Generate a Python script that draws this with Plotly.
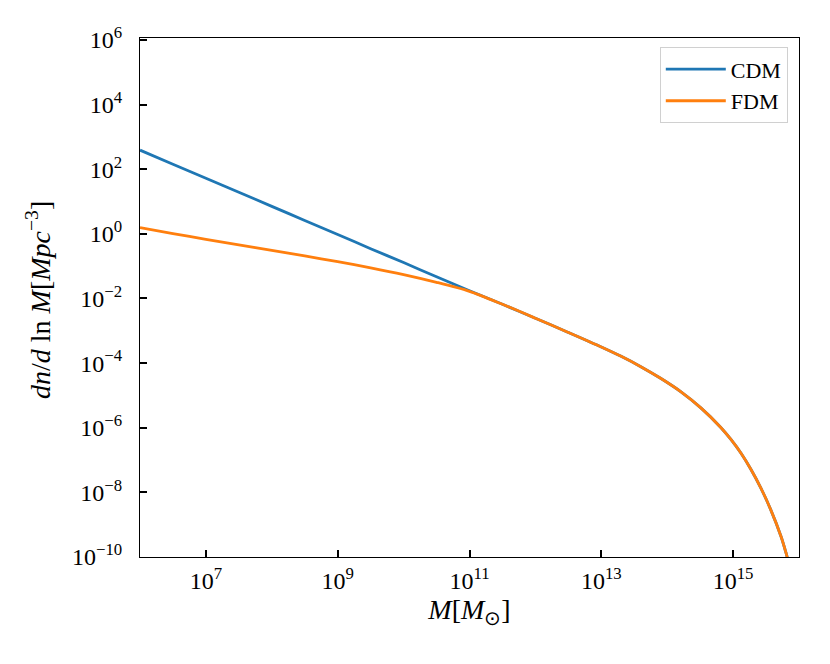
import plotly.graph_objects as go

# Halo mass (M_sun)
mass = [1e6, 3.16e6, 1e7, 3.16e7, 1e8, 3.16e8, 1e9, 3.16e9, 1e10, 3.16e10, 1e11, 3.16e11,
        1e12, 3.16e12, 1e13, 2.0e13, 3.98e13, 7.94e13, 1.62e14, 3.24e14, 6.46e14, 9.33e14,
        1.32e15, 1.86e15, 2.63e15, 3.72e15, 5.37e15, 6.31e15, 7.24e15]

# dn/dlnM (Mpc^-3)
cdm = [389, 143, 52.5, 19.3, 7.08, 2.60, 0.955, 0.347, 0.129, 0.0468, 0.0174, 0.00661,
       0.00245, 8.91e-4, 3.16e-4, 1.62e-4, 7.76e-5, 3.39e-5, 1.29e-5, 4.12e-6, 1.04e-6, 4.27e-7,
       1.62e-7, 5.19e-8, 1.38e-8, 2.92e-9, 4.17e-10, 1.41e-10, 5.01e-11]

fdm = [1.55, 1.02, 0.676, 0.457, 0.309, 0.207, 0.138, 0.0891, 0.0550, 0.0316, 0.0166, 0.00661,
       0.00245, 8.91e-4, 3.16e-4, 1.62e-4, 7.76e-5, 3.39e-5, 1.29e-5, 4.12e-6, 1.04e-6, 4.27e-7,
       1.62e-7, 5.19e-8, 1.38e-8, 2.92e-9, 4.17e-10, 1.41e-10, 5.01e-11]

x_tickvals = [1e7, 1e9, 1e11, 1e13, 1e15]
x_ticktext = ["10<sup>7</sup>", "10<sup>9</sup>", "10<sup>11</sup>", "10<sup>13</sup>", "10<sup>15</sup>"]
y_tickvals = [1e6, 1e4, 1e2, 1e0, 1e-2, 1e-4, 1e-6, 1e-8, 1e-10]
y_ticktext = ["10<sup>6</sup>", "10<sup>4</sup>", "10<sup>2</sup>", "10<sup>0</sup>",
              "10<sup>−2</sup>", "10<sup>−4</sup>", "10<sup>−6</sup>", "10<sup>−8</sup>",
              "10<sup>−10</sup>"]
y_title = "<i>dn</i>/<i>d</i> ln <i>M</i>[<i>Mpc</i><sup>−3</sup>]"
x_title = "<i>M</i>[<i>M</i><sub>⊙</sub>]"

FONT = "Liberation Serif"
PAD = "\u00a0\u00a0"

fig = go.Figure()
fig.add_trace(go.Scatter(x=mass, y=cdm, mode="lines", name="CDM",
                         line=dict(color="#1f77b4", width=2.8, shape="spline", smoothing=0.8)))
fig.add_trace(go.Scatter(x=mass, y=fdm, mode="lines", name="FDM",
                         line=dict(color="#ff7f0e", width=2.8, shape="spline", smoothing=0.8)))

axis_common = dict(
    showline=True, linecolor="black", linewidth=1, mirror=True,
    ticks="inside", ticklen=7, tickwidth=2, tickcolor="black",
    showgrid=False, zeroline=False, automargin=False,
    tickfont=dict(family=FONT, size=24, color="black"),
)

fig.update_xaxes(type="log", range=[6, 16], tickvals=x_tickvals, ticktext=x_ticktext,
                 ticklabelstandoff=2,
                 title=dict(text=x_title,
                            font=dict(family=FONT, size=28, color="black"), standoff=0),
                 **axis_common)
fig.update_yaxes(type="log", range=[-10, 6.06], tickvals=y_tickvals,
                 ticktext=[t + PAD for t in y_ticktext],
                 **axis_common)

fig.add_annotation(text=y_title, xref="paper", yref="paper", x=-0.155, y=0.495,
                   xanchor="center", yanchor="middle", textangle=-90, showarrow=False,
                   font=dict(family=FONT, size=28, color="black"))

# page body has an 8px margin, so plot-area margins are offset to compensate
fig.update_layout(
    width=830, height=664,
    margin=dict(l=132, r=39, t=30, b=115),
    plot_bgcolor="white", paper_bgcolor="white",
    font=dict(family=FONT, color="black"),
    legend=dict(x=0.983, y=0.982, xanchor="right", yanchor="top",
                bgcolor="white", bordercolor="#d0d0d0", borderwidth=1,
                font=dict(family=FONT, size=22, color="black"),
                itemwidth=60),
)

fig.write_html("out.html")
